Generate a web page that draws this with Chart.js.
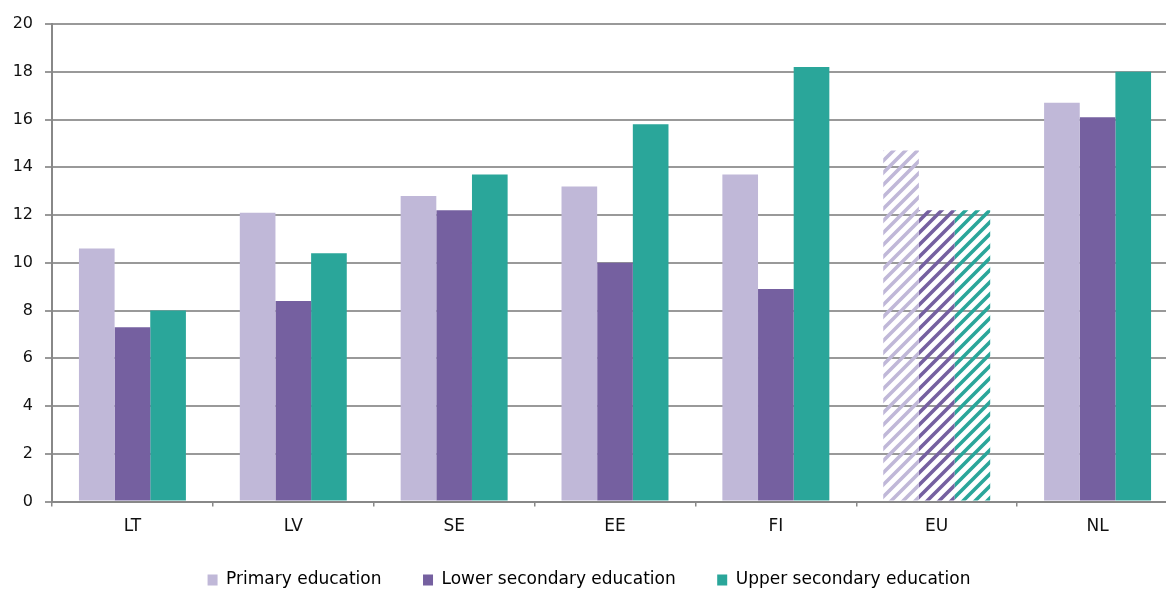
<!DOCTYPE html>
<html>
<head>
<meta charset="utf-8">
<script src="https://cdn.jsdelivr.net/npm/chart.js@4"></script>
<style>
html,body{margin:0;padding:0;background:#fff;overflow:hidden;width:1166px;height:590px;}
#wrap{width:1180px;height:590px;}
</style>
</head>
<body>
<div id="wrap"><canvas id="c" width="1180" height="590"></canvas></div>
<script>
const categories = ['LT','LV','SE','EE','FI','EU','NL'];
const primary = [10.6, 12.1, 12.8, 13.2, 13.7, 14.7, 16.7];
const lowerSecondary = [7.3, 8.4, 12.2, 10.0, 8.9, 12.2, 16.1];
const upperSecondary = [8.0, 10.4, 13.7, 15.8, 18.2, 12.2, 18.0];
const seriesNames = ['Primary education','Lower secondary education','Upper secondary education'];
const yTicks = [0,2,4,6,8,10,12,14,16,18,20];
const hatchedCategory = 'EU';

const colors = ['#C0B8D8','#7560A0','#2AA69A'];
const FONT = "'DejaVu Sans', Verdana, sans-serif";

function stripes(color){
  const s = 12;
  const c = document.createElement('canvas');
  c.width = s; c.height = s;
  const g = c.getContext('2d');
  g.strokeStyle = color;
  g.lineWidth = 3.6;
  g.lineCap = 'square';
  g.beginPath();
  g.moveTo(-2, s+2); g.lineTo(s+2, -2);
  g.moveTo(-2, 2); g.lineTo(2, -2);
  g.moveTo(s-2, s+2); g.lineTo(s+2, s-2);
  g.stroke();
  return g.createPattern(c, 'repeat');
}

function bg(i){
  const p = stripes(colors[i]);
  return categories.map(c => c === hatchedCategory ? p : colors[i]);
}

const seriesData = [primary, lowerSecondary, upperSecondary];

const legendShift = {
  id: 'legendShift',
  afterLayout(chart){
    const l = chart.legend;
    if (l) { l.top -= 17; l.bottom -= 17; }
  }
};

new Chart(document.getElementById('c'), {
  type: 'bar',
  data: {
    labels: categories,
    datasets: seriesData.map((d,i)=>({
      label: seriesNames[i],
      data: d,
      backgroundColor: bg(i),
      borderWidth: 0,
      barPercentage: 1.0,
      categoryPercentage: 0.665
    }))
  },
  plugins: [legendShift],
  options: {
    responsive: false,
    animation: false,
    devicePixelRatio: 1,
    layout: { padding: { top: 24, right: 2, left: 0, bottom: -25.5 } },
    plugins: {
      tooltip: { enabled: false },
      legend: {
        position: 'bottom',
        labels: {
          font: { family: FONT, size: 17 },
          color: '#111',
          boxWidth: 10,
          boxHeight: 11,
          padding: 41.5,
          generateLabels(chart){
            return chart.data.datasets.map((ds,i)=>({
              text: ds.label, fillStyle: colors[i], strokeStyle: colors[i],
              lineWidth: 0, hidden: false, datasetIndex: i
            }));
          }
        }
      }
    },
    scales: {
      x: {
        grid: { display: true, drawOnChartArea: false, drawTicks: true, tickLength: 5, color: '#888', lineWidth: 1.5, offset: true },
        border: { display: true, color: '#888', width: 2 },
        ticks: { font: { family: FONT, size: 17 }, color: '#111', padding: 10 }
      },
      y: {
        min: 0, max: 20,
        afterBuildTicks(scale){ scale.ticks = yTicks.map(v=>({value:v})); },
        afterFit(scale){ scale.width = 52; },
        grid: { color: '#999', lineWidth: 2, drawTicks: true, tickLength: 7 },
        border: { display: true, color: '#888', width: 2 },
        ticks: { font: { family: FONT, size: 16 }, color: '#111', padding: 12 }
      }
    }
  }
});
</script>
</body>
</html>
